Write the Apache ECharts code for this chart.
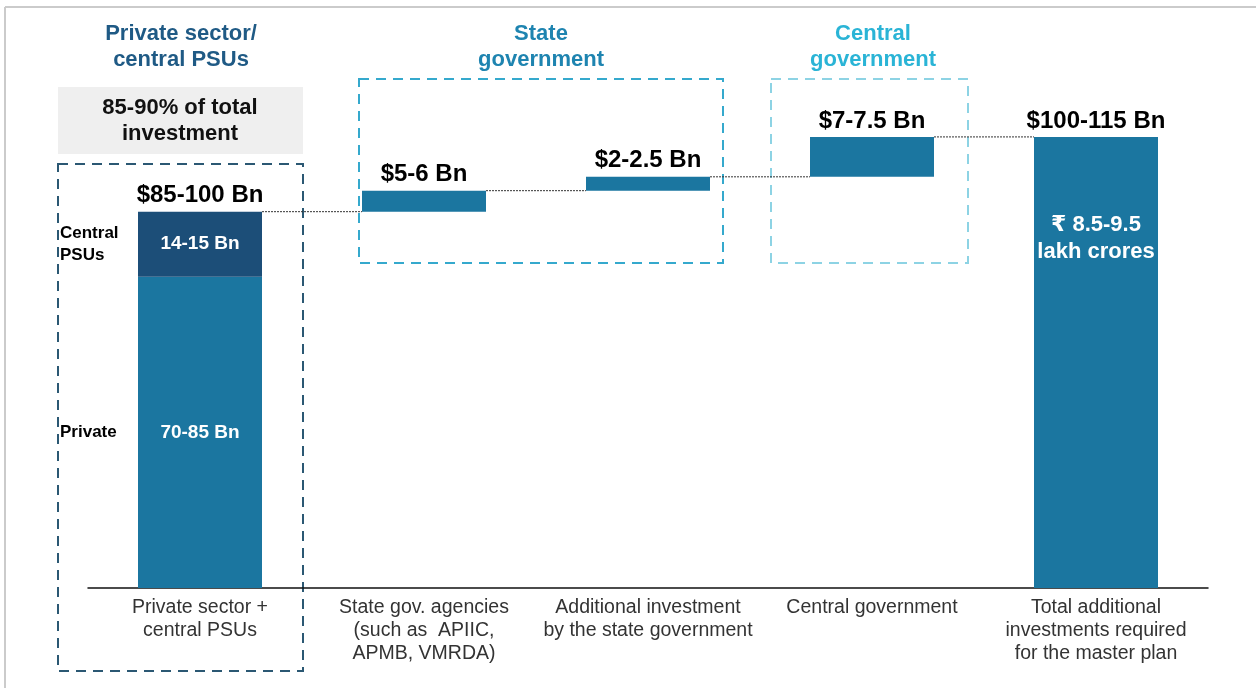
<!DOCTYPE html>
<html>
<head>
<meta charset="utf-8">
<script src="https://cdn.jsdelivr.net/npm/echarts@6/dist/echarts.min.js"></script>
<style>
html,body{margin:0;padding:0;background:#fff;}
#chart{width:1256px;height:688px;}
</style>
</head>
<body>
<div id="chart"></div>
<script>
// ---- data ----
const categories = [
  'Private sector +\ncentral PSUs',
  'State gov. agencies\n(such as  APIIC,\nAPMB, VMRDA)',
  'Additional investment\nby the state government',
  'Central government',
  'Total additional\ninvestments required\nfor the master plan'
];
const privateValues = [74.1];        // Private (Bn, estimated midpoint scale)
const psuValues = [15.5];            // Central PSUs
const stepValues = [5.0, 3.3, 9.5];  // State agencies, additional state, central govt
const topLabels = ['$85-100 Bn', '$5-6 Bn', '$2-2.5 Bn', '$7-7.5 Bn', '$100-115 Bn'];
const segmentLabels = ['70-85 Bn', '14-15 Bn'];
const segmentNames = ['Private', 'Central\nPSUs'];
const totalLabel = '₹ 8.5-9.5\nlakh crores';

// ---- derived waterfall structure ----
const firstTotal = privateValues[0] + psuValues[0];
const tops = [firstTotal];
stepValues.forEach(v => tops.push(tops[tops.length - 1] + v));
const grandTotal = tops[tops.length - 1];
tops.push(grandTotal);
const baseData = [0, tops[0], tops[1], tops[2], 0];
const privateData = [privateValues[0], 0, 0, 0, 0];
const psuData = [psuValues[0], 0, 0, 0, 0];
const changeData = [0, stepValues[0], stepValues[1], stepValues[2], grandTotal];

const FONT = "'Liberation Sans', Arial, 'DejaVu Sans', sans-serif";
const BAR = '#1b76a0';
const BAR_DARK = '#1c4e78';
const barRatio = 124 / 224;

const chart = echarts.init(document.getElementById('chart'));
const option = {
  animation: false,
  backgroundColor: '#fff',
  textStyle: { fontFamily: FONT },
  grid: { left: 88, right: 48, top: 84, bottom: 100 },
  xAxis: {
    type: 'category',
    data: categories,
    axisLine: { lineStyle: { color: '#111', width: 1.5 } },
    axisTick: { show: false },
    axisLabel: { color: '#333', fontSize: 19.5, lineHeight: 23, margin: 8, fontFamily: FONT, interval: 0 }
  },
  yAxis: { type: 'value', min: 0, max: 120, show: false },
  series: [
    {
      type: 'bar', stack: 'w', barWidth: (barRatio * 100) + '%',
      itemStyle: { color: 'transparent' }, data: baseData, silent: true
    },
    {
      type: 'bar', stack: 'w', itemStyle: { color: BAR },
      data: privateData,
      label: {
        show: true, position: 'inside', color: '#fff', fontWeight: 'bold', fontSize: 19, fontFamily: FONT,
        formatter: p => p.dataIndex === 0 ? segmentLabels[0] : ''
      }
    },
    {
      type: 'bar', stack: 'w', itemStyle: { color: BAR_DARK },
      data: psuData,
      label: {
        show: true, position: 'inside', color: '#fff', fontWeight: 'bold', fontSize: 19, fontFamily: FONT,
        formatter: p => p.dataIndex === 0 ? segmentLabels[1] : ''
      }
    },
    {
      type: 'bar', stack: 'w', itemStyle: { color: BAR },
      data: changeData.map((v, i) => i === 4 ? {
        value: v,
        label: {
          show: true, position: 'insideTop', distance: 75, color: '#fff', fontWeight: 'bold',
          fontSize: 22, lineHeight: 27, fontFamily: FONT, formatter: totalLabel
        }
      } : v)
    },
    {
      type: 'custom',
      data: tops.slice(0, 4).map((v, i) => [i, v]),
      encode: { x: 0, y: 1 },
      silent: true,
      renderItem: function (params, api) {
        const p = api.coord([api.value(0), api.value(1)]);
        const band = api.size([1, 0])[0];
        const hw = band * barRatio / 2;
        return {
          type: 'line',
          shape: { x1: p[0] + hw, y1: p[1], x2: p[0] + band - hw, y2: p[1] },
          style: { stroke: '#333', lineWidth: 1, lineDash: [2, 1] }
        };
      }
    },
    {
      type: 'scatter', symbolSize: 0.001, itemStyle: { color: 'transparent', opacity: 1 }, silent: true,
      data: tops.map((v, i) => [i, v]),
      label: {
        show: true, position: 'top', distance: 4, color: '#000', fontWeight: 'bold', fontSize: 24, fontFamily: FONT,
        formatter: p => topLabels[p.dataIndex]
      }
    },
    {
      type: 'scatter', symbolSize: 0.001, itemStyle: { color: 'transparent', opacity: 1 }, silent: true,
      data: [[0, privateValues[0] / 2], [0, privateValues[0] + psuValues[0] / 2]],
      label: {
        show: true, position: [-140, 0], align: 'left', verticalAlign: 'middle',
        color: '#000', fontWeight: 'bold', fontSize: 17, lineHeight: 22, fontFamily: FONT,
        formatter: p => segmentNames[p.dataIndex]
      }
    }
  ],
  graphic: [
    { type: 'line', shape: { x1: 5, y1: 7, x2: 1256, y2: 7 }, style: { stroke: '#cbcbcb', lineWidth: 2 }, silent: true },
    { type: 'line', shape: { x1: 5, y1: 7, x2: 5, y2: 688 }, style: { stroke: '#cbcbcb', lineWidth: 2 }, silent: true },
    { type: 'rect', shape: { x: 58, y: 87, width: 245, height: 67 }, style: { fill: '#efefef' }, silent: true },
    { type: 'text', style: { text: '85-90% of total\ninvestment', x: 180, y: 121, align: 'center', verticalAlign: 'middle',
        fill: '#111', fontSize: 22, fontWeight: 'bold', fontFamily: FONT, lineHeight: 26 } },
    { type: 'text', style: { text: 'Private sector/\ncentral PSUs', x: 181, y: 47, align: 'center', verticalAlign: 'middle',
        fill: '#1f5a85', fontSize: 22, fontWeight: 'bold', fontFamily: FONT, lineHeight: 26 } },
    { type: 'text', style: { text: 'State\ngovernment', x: 541, y: 47, align: 'center', verticalAlign: 'middle',
        fill: '#1e84b0', fontSize: 22, fontWeight: 'bold', fontFamily: FONT, lineHeight: 26 } },
    { type: 'text', style: { text: 'Central\ngovernment', x: 873, y: 47, align: 'center', verticalAlign: 'middle',
        fill: '#2ab4d6', fontSize: 22, fontWeight: 'bold', fontFamily: FONT, lineHeight: 26 } },
    { type: 'rect', shape: { x: 58, y: 164, width: 245, height: 507 }, silent: true,
      style: { fill: 'none', stroke: '#2b5873', lineWidth: 2, lineDash: [10, 7] } },
    { type: 'rect', shape: { x: 359, y: 79, width: 364, height: 184 }, silent: true,
      style: { fill: 'none', stroke: '#35a9cd', lineWidth: 2, lineDash: [10, 7] } },
    { type: 'rect', shape: { x: 771, y: 79, width: 197, height: 184 }, silent: true,
      style: { fill: 'none', stroke: '#8dd3e4', lineWidth: 2, lineDash: [10, 7] } }
  ]
};
chart.setOption(option);
</script>
</body>
</html>
